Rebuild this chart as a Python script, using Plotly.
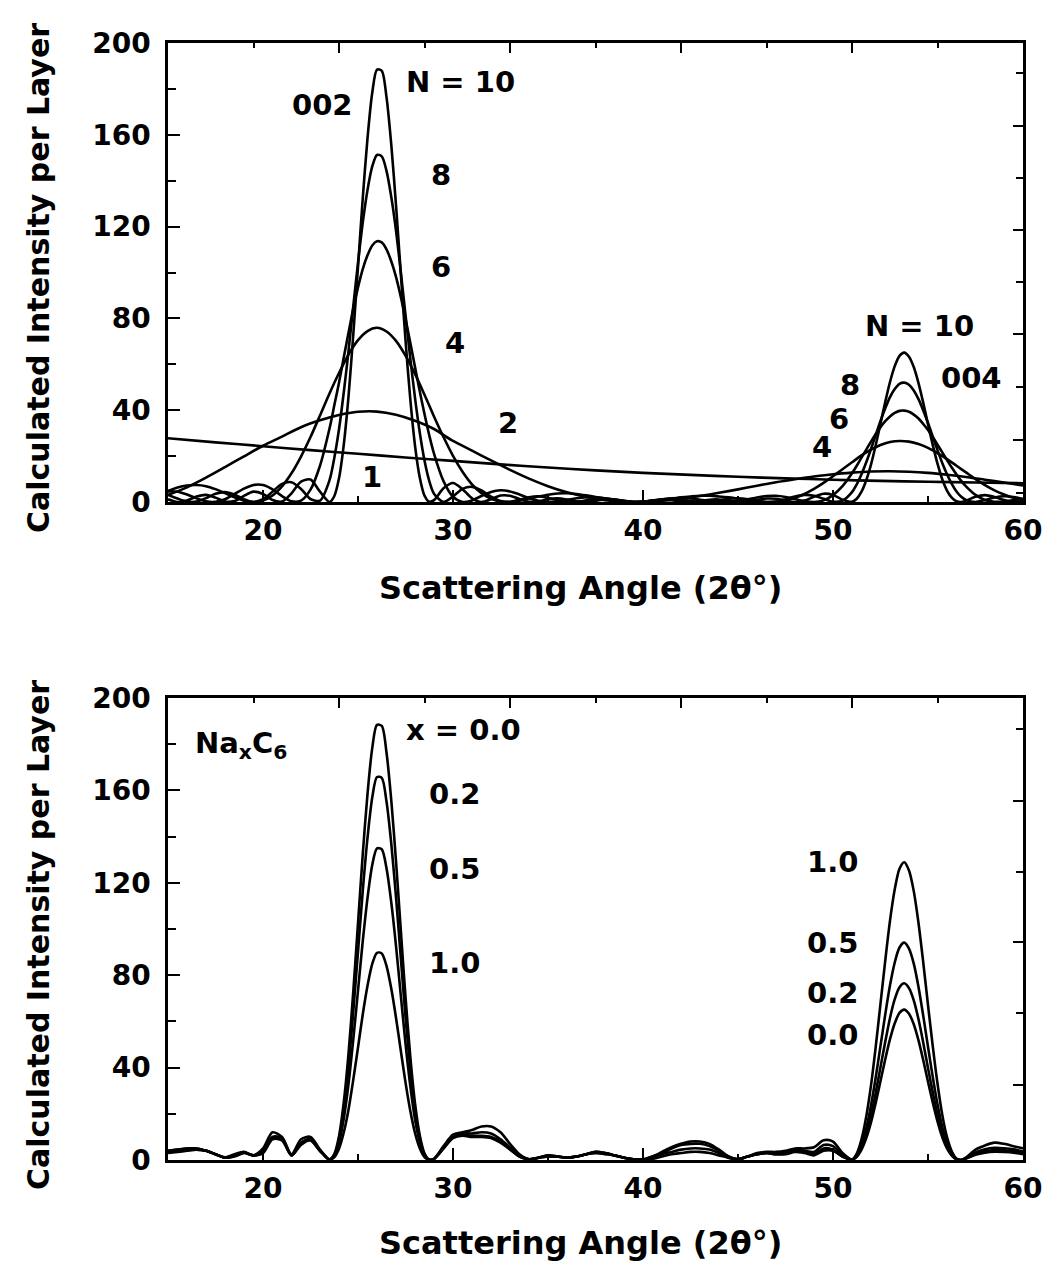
import plotly.graph_objects as go

# ---------------- data ----------------
# fine angle grid (quarter-degree steps through the two Bragg peaks)
angle_fine = [15.0, 15.5, 16.0, 16.5, 17.0, 17.5, 18.0, 18.5, 19.0, 19.5,
              20.0, 20.5, 21.0, 21.5, 22.0, 22.5, 23.0,
              23.5, 23.75, 24.0, 24.25, 24.5, 24.75, 25.0, 25.25, 25.5, 25.75,
              26.0, 26.25, 26.5, 26.75, 27.0, 27.25, 27.5, 27.75, 28.0, 28.25,
              28.5, 28.75, 29.0,
              29.5, 30.0, 30.5, 31.0, 31.5, 32.0, 32.5, 33.0, 33.5, 34.0,
              34.5, 35.0, 35.5, 36.0, 36.5, 37.0, 37.5, 38.0, 38.5, 39.0,
              39.5, 40.0, 40.5, 41.0, 41.5, 42.0, 42.5, 43.0, 43.5, 44.0,
              44.5, 45.0, 45.5, 46.0, 46.5, 47.0, 47.5, 48.0, 48.5, 49.0,
              49.5, 50.0, 50.5,
              51.0, 51.25, 51.5, 51.75, 52.0, 52.25, 52.5, 52.75, 53.0, 53.25,
              53.5, 53.75, 54.0, 54.25, 54.5, 54.75, 55.0, 55.25, 55.5, 55.75,
              56.0, 56.25, 56.5, 56.75, 57.0,
              57.5, 58.0, 58.5, 59.0, 59.5, 60.0]

# half-degree grid
angle_half = [15.0, 15.5, 16.0, 16.5, 17.0, 17.5, 18.0, 18.5, 19.0, 19.5,
              20.0, 20.5, 21.0, 21.5, 22.0, 22.5, 23.0, 23.5, 24.0, 24.5,
              25.0, 25.5, 26.0, 26.5, 27.0, 27.5, 28.0, 28.5, 29.0, 29.5,
              30.0, 30.5, 31.0, 31.5, 32.0, 32.5, 33.0, 33.5, 34.0, 34.5,
              35.0, 35.5, 36.0, 36.5, 37.0, 37.5, 38.0, 38.5, 39.0, 39.5,
              40.0, 40.5, 41.0, 41.5, 42.0, 42.5, 43.0, 43.5, 44.0, 44.5,
              45.0, 45.5, 46.0, 46.5, 47.0, 47.5, 48.0, 48.5, 49.0, 49.5,
              50.0, 50.5, 51.0, 51.5, 52.0, 52.5, 53.0, 53.5, 54.0, 54.5,
              55.0, 55.5, 56.0, 56.5, 57.0, 57.5, 58.0, 58.5, 59.0, 59.5, 60.0]

# ---- top panel: intensity per layer for N layers ----
n10 = [1.2, 0.0, 0.6, 2.4, 3.1, 1.9, 0.2, 0.4, 2.7, 4.5, 3.5, 0.9, 0.2, 3.8, 8.9, 9.8, 4.5,
       0.0, 2.5, 10.3, 24.9, 45.9, 72.8, 102.4, 132.3, 158.4, 178.3, 188.4, 187.9, 176.4,
       155.8, 129.4, 99.8, 70.6, 45.0, 24.6, 10.7, 2.8, 0.1, 0.8,
       6.0, 8.3, 5.6, 1.6, 0.0, 1.2, 2.8, 2.7, 1.3, 0.1, 0.3, 1.2, 1.6, 1.1, 0.3, 0.0,
       0.5, 1.1, 1.1, 0.5, 0.0, 0.2, 0.7, 1.0, 0.8, 0.2, 0.0, 0.4, 1.0, 1.1, 0.6, 0.1,
       0.1, 0.9, 1.5, 1.4, 0.6, 0.0, 0.6, 2.3, 3.6, 3.1, 1.0,
       0.1, 1.4, 4.5, 9.5, 16.3, 24.8, 34.2, 43.6, 52.3, 59.2, 63.7, 65.1, 63.3, 58.8,
       51.8, 43.2, 33.9, 24.9, 16.7, 9.9, 5.0, 1.9, 0.3, 0.0, 0.6,
       2.3, 3.0, 2.2, 0.9, 0.1, 0.2]

n8 = [3.1, 1.5, 0.2, 0.2, 1.7, 3.6, 4.3, 3.2, 1.2, 0.0, 1.2, 4.5, 7.9, 8.6, 5.7, 1.3, 0.6,
      9.5, 19.1, 31.7, 47.7, 65.7, 85.2, 104.2, 121.7, 135.9, 146.2, 151.2, 150.6, 144.3,
      133.0, 118.3, 100.5, 81.5, 62.8, 45.4, 30.3, 18.1, 9.2, 3.6,
      0.0, 2.4, 5.7, 6.6, 5.0, 2.3, 0.4, 0.1, 1.0, 2.1, 2.5, 1.8, 0.8, 0.1, 0.1, 0.7,
      1.4, 1.5, 1.1, 0.4, 0.0, 0.1, 0.6, 1.2, 1.3, 0.9, 0.4, 0.0, 0.2, 0.7, 1.4, 1.6,
      1.2, 0.5, 0.0, 0.2, 1.2, 2.4, 3.1, 2.7, 1.4, 0.1, 0.6,
      4.3, 7.7, 12.1, 17.3, 23.1, 29.2, 35.3, 40.8, 45.7, 49.2, 51.5, 52.0, 51.1, 48.6,
      44.8, 39.9, 34.4, 28.5, 22.6, 17.0, 12.1, 7.9, 4.6, 2.3, 0.9,
      0.0, 0.9, 2.0, 2.5, 2.2, 1.3]

n6 = [4.6, 4.5, 3.3, 1.6, 0.3, 0.1, 1.2, 3.5, 5.8, 7.4, 7.4, 5.5, 2.6, 0.3, 0.6, 5.4, 15.8,
      32.0, 42.0, 52.0, 63.0, 73.7, 84.2, 93.5, 101.5, 107.5, 111.8, 113.6, 113.1, 110.1,
      104.9, 98.1, 89.5, 79.8, 69.5, 58.8, 48.3, 38.3, 29.1, 21.1,
      9.1, 2.3, 0.0, 0.7, 2.6, 4.4, 5.1, 4.6, 3.3, 1.7, 0.5, 0.0, 0.2, 0.9, 1.6, 2.1,
      2.1, 1.6, 1.0, 0.4, 0.0, 0.1, 0.5, 1.1, 1.6, 1.7, 1.5, 1.0, 0.5, 0.1, 0.0, 0.5,
      1.2, 2.0, 2.6, 2.7, 2.2, 1.3, 0.4, 0.0, 0.7, 3.0, 6.9,
      12.5, 15.8, 19.3, 22.8, 26.3, 29.6, 32.6, 35.2, 37.3, 38.8, 39.7, 39.8, 39.3, 38.1,
      36.4, 34.0, 31.4, 28.3, 25.0, 21.6, 18.3, 15.0, 12.0, 9.2, 6.8,
      3.1, 0.9, 0.1, 0.2, 0.8, 1.4]

n4 = [4.8, 6.3, 7.2, 7.4, 6.9, 5.6, 3.9, 2.1, 0.6, 0.0,
      0.6, 2.8, 6.8, 12.5, 19.8, 28.3, 37.7, 47.3, 56.2, 64.2,
      70.5, 74.5, 75.9, 74.3, 70.2, 63.8, 55.8, 46.7, 37.3, 28.3,
      20.1, 13.2, 7.7, 3.8, 1.4, 0.2, 0.0, 0.6, 1.5, 2.4,
      3.2, 3.7, 3.8, 3.5, 2.9, 2.2, 1.4, 0.7, 0.2, 0.0,
      0.1, 0.4, 0.9, 1.4, 2.0, 2.4, 2.7, 2.7, 2.4, 2.0,
      1.4, 0.8, 0.3, 0.0, 0.1, 0.7, 1.8, 3.5, 5.7, 8.3,
      11.2, 14.3, 17.3, 20.3, 22.8, 24.8, 26.1, 26.6, 26.3, 25.3,
      23.6, 21.3, 18.7, 15.8, 12.9, 10.0, 7.4, 5.1, 3.3, 1.8, 0.8]

angle_n2 = [15, 16, 17, 18, 19, 20, 21, 22, 23, 24, 25, 26, 27, 28, 29, 30,
            31, 32, 33, 34, 35, 36, 37, 38, 39, 40, 41, 42, 43, 44, 45,
            46, 47, 48, 49, 50, 51, 52, 53, 54, 55, 56, 57, 58, 59, 60]
n2 = [3.1, 6.4, 10.6, 15.2, 19.9, 24.5, 28.5, 32.6, 35.6, 37.9, 39.3, 39.4,
      38.0, 35.4, 31.8, 26.6, 22.4, 18.1, 14.0, 10.2, 6.9, 4.2, 2.2, 0.8,
      0.1, 0.0, 0.5, 1.4, 2.6, 4.0, 5.5, 7.1, 8.6, 9.9, 11.1, 12.1, 12.8,
      13.3, 13.4, 13.2, 12.7, 11.9, 10.9, 9.7, 8.5, 7.2]

angle_n1 = [15.0, 17.5, 20.0, 22.5, 25.0, 27.5, 30.0, 32.5, 35.0, 37.5,
            40.0, 42.5, 45.0, 47.5, 50.0, 52.5, 55.0, 57.5, 60.0]
n1 = [27.8, 26.0, 24.3, 22.6, 21.0, 19.4, 17.9, 16.4, 15.0, 13.8,
      12.7, 11.8, 11.0, 10.3, 9.7, 9.2, 8.8, 8.5, 8.2]

# ---- bottom panel: NaxC6 with x = 0.0, 0.2, 0.5, 1.0 ----
na00 = [4.0, 4.5, 5.0, 5.0, 4.0, 2.5, 1.0, 1.5, 3.0, 2.0, 3.0, 9.0, 8.5, 2.0, 6.5, 8.5, 4.0,
        0.2, 2.5, 10.3, 24.9, 45.9, 72.8, 102.4, 132.3, 158.4, 178.3, 188.4, 187.9, 176.4,
        155.8, 129.4, 99.8, 70.6, 45.0, 24.6, 10.7, 2.8, 0.1, 0.5,
        5.0, 9.5, 10.5, 10.0, 10.0, 9.5, 7.5, 4.5, 1.5, 0.3, 1.0, 1.5, 1.5, 1.0, 1.5, 2.5,
        3.5, 3.0, 2.0, 1.0, 0.3, 0.2, 1.5, 3.5, 5.5, 7.0, 8.0, 8.0, 7.0, 4.5, 1.5, 0.3,
        1.5, 2.5, 3.0, 2.5, 2.5, 3.5, 3.0, 2.0, 4.0, 4.0, 1.5,
        0.2, 1.4, 4.5, 9.5, 16.3, 24.8, 34.2, 43.6, 52.3, 59.2, 63.7, 65.1, 63.3, 58.8,
        51.8, 43.2, 33.9, 24.9, 16.7, 9.9, 5.0, 1.9, 0.3, 0.0, 0.6,
        2.3, 3.2, 3.6, 3.5, 3.2, 2.5]

na02 = [4.0, 4.5, 5.0, 5.0, 4.0, 2.5, 1.0, 1.8, 3.2, 2.0, 3.5, 9.5, 9.0, 2.0, 7.0, 8.5, 4.0,
        0.2, 2.2, 9.1, 21.9, 40.4, 64.1, 90.1, 116.4, 139.4, 156.9, 165.8, 165.4, 155.2,
        137.1, 113.9, 87.8, 62.1, 39.6, 21.6, 9.4, 2.5, 0.1, 0.5,
        5.0, 10.0, 11.0, 10.5, 10.5, 10.0, 8.0, 5.0, 1.5, 0.3, 1.0, 1.5, 1.5, 1.0, 1.5, 2.5,
        3.5, 3.0, 2.0, 1.0, 0.3, 0.2, 1.5, 3.0, 5.0, 6.5, 7.0, 7.0, 6.0, 4.0, 1.5, 0.3,
        1.5, 2.5, 3.0, 2.5, 3.0, 4.0, 3.5, 2.5, 5.0, 4.5, 1.5,
        0.2, 1.6, 5.3, 11.2, 19.2, 29.1, 40.2, 51.2, 61.5, 69.6, 74.8, 76.5, 74.4, 69.1,
        60.9, 50.8, 39.8, 29.3, 19.6, 11.6, 5.9, 2.2, 0.4, 0.0, 0.7,
        2.7, 3.8, 4.3, 4.2, 3.8, 3.0]

na05 = [3.5, 4.0, 4.5, 4.5, 4.0, 2.5, 1.0, 2.0, 3.3, 2.0, 4.0, 10.0, 9.5, 2.0, 7.5, 9.0, 4.0,
        0.2, 1.8, 7.4, 17.8, 32.9, 52.1, 73.3, 94.7, 113.4, 127.7, 134.9, 134.5, 126.3,
        111.6, 92.7, 71.5, 50.5, 32.2, 17.6, 7.7, 2.0, 0.1, 0.5,
        5.5, 10.5, 11.5, 11.5, 12.0, 11.5, 9.0, 5.5, 2.0, 0.3, 1.0, 2.0, 1.5, 1.0, 1.5, 2.5,
        3.0, 3.0, 2.0, 1.0, 0.3, 0.2, 1.0, 2.5, 3.5, 4.5, 5.0, 5.0, 4.5, 3.0, 1.0, 0.3,
        1.5, 2.5, 3.0, 3.0, 3.5, 4.5, 4.0, 3.5, 6.5, 6.0, 2.0,
        0.2, 2.0, 6.5, 13.7, 23.6, 35.8, 49.4, 63.0, 75.6, 85.5, 92.0, 94.1, 91.5, 85.0,
        74.9, 62.4, 49.0, 36.0, 24.1, 14.3, 7.2, 2.7, 0.4, 0.0, 0.9,
        3.3, 4.7, 5.3, 5.1, 4.6, 3.6]

na10 = [3.0, 3.5, 4.0, 4.5, 4.0, 2.5, 1.2, 2.5, 3.5, 2.0, 5.0, 12.0, 10.0, 2.5, 9.0, 10.0, 4.5,
        0.2, 1.2, 4.9, 11.9, 21.8, 34.7, 48.7, 63.0, 75.4, 84.9, 89.7, 89.4, 84.0,
        74.2, 61.6, 47.5, 33.6, 21.4, 11.7, 5.1, 1.3, 0.1, 0.5,
        6.0, 11.0, 12.0, 13.0, 14.5, 14.5, 12.0, 7.0, 2.5, 0.3, 1.0, 2.0, 1.5, 1.0, 1.5, 2.5,
        3.0, 2.5, 2.0, 1.0, 0.3, 0.2, 0.5, 1.5, 2.5, 3.0, 3.5, 3.5, 3.0, 2.0, 1.0, 0.3,
        1.5, 3.0, 3.5, 3.5, 4.0, 5.0, 5.0, 5.5, 8.5, 8.0, 3.0,
        0.2, 2.8, 8.9, 18.8, 32.3, 49.1, 67.7, 86.3, 103.6, 117.2, 126.1, 128.9, 125.3, 116.4,
        102.6, 85.5, 67.1, 49.3, 33.1, 19.6, 9.9, 3.8, 0.6, 0.0, 1.1,
        4.5, 6.3, 7.5, 7.0, 6.0, 5.0]

# ticks
x_major = [20, 30, 40, 50, 60]
x_minor = [25, 35, 45, 55]
y_major = [0, 40, 80, 120, 160, 200]
y_minor = [20, 60, 100, 140, 180]
top_major = [24, 33, 42, 51]
top_minor = [19.5, 28.5, 37.5, 46.5, 55.5]
right_top_major = [27, 73, 118.5, 164]
right_top_minor = [4, 50, 96, 141, 187]
right_bot_major = [32.6, 94.3, 155.6]
right_bot_minor = [63.5, 124.8, 186.4]

# ---------------- figure ----------------
FONT = "DejaVu Sans"

fig = go.Figure()

def add(xs, ys, xa, ya, name):
    fig.add_trace(go.Scatter(x=xs, y=ys, mode="lines",
                             line=dict(color="black", width=2.6, shape="spline", smoothing=0.8),
                             xaxis=xa, yaxis=ya, name=name, showlegend=False, hoverinfo="skip"))

add(angle_n1, n1, "x3", "y", "N = 1")
add(angle_n2, n2, "x", "y3", "N = 2")
add(angle_half, n4, "x", "y", "N = 4")
add(angle_fine, n6, "x", "y", "N = 6")
add(angle_fine, n8, "x", "y", "N = 8")
add(angle_fine, n10, "x", "y", "N = 10")

add(angle_fine, na10, "x4", "y2", "x = 1.0")
add(angle_fine, na05, "x2", "y4", "x = 0.5")
add(angle_fine, na02, "x2", "y2", "x = 0.2")
add(angle_fine, na00, "x2", "y2", "x = 0.0")

XDOM = [168 / 1049, 1023 / 1049]
YDOM_TOP = [1 - 502 / 1261, 1 - 43 / 1261]
YDOM_BOT = [1 - 1160 / 1261, 1 - 698 / 1261]
tickfont = dict(family=FONT, size=28, color="black", weight="bold")

def main_x(anchor):
    return dict(domain=XDOM, anchor=anchor, range=[15, 60], automargin=False,
                showline=True, linewidth=2.5, linecolor="black", mirror=True,
                ticks="inside", ticklen=12, tickwidth=2, tickcolor="black",
                tickmode="array", tickvals=x_major, tickfont=tickfont,
                ticklabelstandoff=2, showgrid=False, zeroline=False,
                minor=dict(tickmode="array", tickvals=x_minor, ticks="inside", ticklen=6,
                           tickwidth=2, tickcolor="black", showgrid=False))

def main_y(anchor, dom):
    return dict(domain=dom, anchor=anchor, range=[0, 200], automargin=False,
                showline=True, linewidth=2.5, linecolor="black", mirror=True,
                ticks="inside", ticklen=12, tickwidth=2, tickcolor="black",
                tickmode="array", tickvals=y_major, tickfont=tickfont,
                ticklabelstandoff=9, showgrid=False, zeroline=False,
                minor=dict(tickmode="array", tickvals=y_minor, ticks="inside", ticklen=8,
                           tickwidth=2, tickcolor="black", showgrid=False))

def over_x(over, anchor):
    return dict(overlaying=over, anchor=anchor, side="top", range=[15, 60], automargin=False,
                showline=False, ticks="inside", ticklen=10, tickwidth=2, tickcolor="black",
                tickmode="array", tickvals=top_major, showticklabels=False,
                showgrid=False, zeroline=False,
                minor=dict(tickmode="array", tickvals=top_minor, ticks="inside", ticklen=5,
                           tickwidth=2, tickcolor="black", showgrid=False))

def over_y(over, anchor, major, minor):
    return dict(overlaying=over, anchor=anchor, side="right", range=[0, 200], automargin=False,
                showline=False, ticks="inside", ticklen=10, tickwidth=2, tickcolor="black",
                tickmode="array", tickvals=major, showticklabels=False,
                showgrid=False, zeroline=False,
                minor=dict(tickmode="array", tickvals=minor, ticks="inside", ticklen=7,
                           tickwidth=2, tickcolor="black", showgrid=False))

fig.update_layout(
    template="none",
    width=1049, height=1261, autosize=False,
    margin=dict(l=0, r=0, t=0, b=0, pad=0),
    paper_bgcolor="white", plot_bgcolor="white",
    font=dict(family=FONT, color="black"),
    xaxis=main_x("y"), yaxis=main_y("x", YDOM_TOP),
    xaxis2=main_x("y2"), yaxis2=main_y("x2", YDOM_BOT),
    xaxis3=over_x("x", "y"), yaxis3=over_y("y", "x", right_top_major, right_top_minor),
    xaxis4=over_x("x2", "y2"), yaxis4=over_y("y2", "x2", right_bot_major, right_bot_minor),
)

afont = dict(family=FONT, size=29, color="black", weight="bold")

def label(text, x, y, xr, yr, anchor="center"):
    fig.add_annotation(text=text, x=x, y=y, xref=xr, yref=yr, showarrow=False,
                       font=afont, xanchor=anchor, yanchor="middle")

# top panel labels
label("002", 23.13, 173.0, "x", "y")
label("N = 10", 30.39, 182.8, "x", "y")
label("8", 29.37, 142.5, "x", "y")
label("6", 29.37, 102.2, "x", "y")
label("4", 30.1, 69.5, "x", "y")
label("2", 32.87, 34.6, "x", "y")
label("1", 25.76, 10.7, "x", "y")
label("N = 10", 54.55, 76.7, "x", "y")
label("8", 50.89, 50.8, "x", "y")
label("6", 50.32, 36.2, "x", "y")
label("4", 49.42, 24.0, "x", "y")
label("004", 57.29, 54.0, "x", "y")

# bottom panel labels
label("Na<sub>x</sub>C<sub>6</sub>", 16.32, 179.5, "x2", "y2", anchor="left")
label("x = 0.0", 30.55, 186.1, "x2", "y2")
label("0.2", 30.08, 158.4, "x2", "y2")
label("0.5", 30.08, 126.0, "x2", "y2")
label("1.0", 30.08, 85.5, "x2", "y2")
label("1.0", 49.97, 128.8, "x2", "y2")
label("0.5", 49.97, 93.9, "x2", "y2")
label("0.2", 49.97, 72.3, "x2", "y2")
label("0.0", 49.97, 54.1, "x2", "y2")

# axis titles
tfont_x = dict(family=FONT, size=32, color="black", weight="bold")
tfont_y = dict(family=FONT, size=30, color="black", weight="bold")
for yc in (1 - 278 / 1261, 1 - 935 / 1261):
    fig.add_annotation(text="Calculated Intensity per Layer", x=38 / 1049, y=yc,
                       xref="paper", yref="paper", textangle=-90, showarrow=False,
                       font=tfont_y, xanchor="center", yanchor="middle")
for yc in (1 - 588 / 1261, 1 - 1243 / 1261):
    fig.add_annotation(text="Scattering Angle (2θ°)", x=580 / 1049, y=yc,
                       xref="paper", yref="paper", showarrow=False,
                       font=tfont_x, xanchor="center", yanchor="middle")

fig.write_html("out.html")
